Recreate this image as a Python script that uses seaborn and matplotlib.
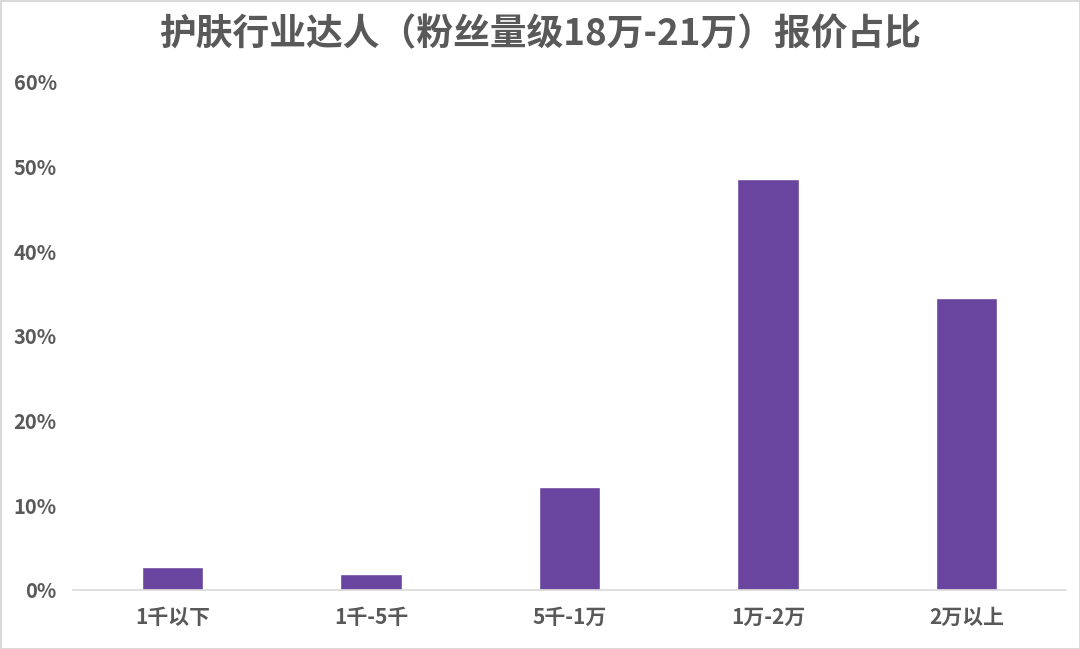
import matplotlib
matplotlib.use("Agg")
import pandas as pd
import seaborn as sns
import matplotlib.pyplot as plt
from matplotlib.ticker import PercentFormatter

# data
categories = ["1千以下", "1千-5千", "5千-1万", "1万-2万", "2万以上"]
shares = [2.75, 1.85, 12.2, 48.5, 34.5]

df = pd.DataFrame({"range": categories, "share": shares})

sns.set_theme(style="white")
plt.rcParams['font.family'] = ['Noto Sans CJK SC', 'DejaVu Sans']

text_color = "#595959"
bar_color = "#6a45a0"

fig = plt.figure(figsize=(10.8, 6.49), dpi=100, edgecolor="#d9d9d9", linewidth=2)
ax = fig.add_axes([0.068, 0.091, 0.919, 0.783])

sns.barplot(data=df, x="range", y="share", color=bar_color, width=0.31,
            saturation=1, ax=ax)

ax.set_ylim(0, 60)
ax.set_yticks(range(0, 61, 10))
ax.yaxis.set_major_formatter(PercentFormatter(decimals=0))
ax.set_xlim(-0.5, 4.5)
ax.set_xlabel("")
ax.set_ylabel("")

for side in ["top", "right", "left"]:
    ax.spines[side].set_visible(False)
ax.spines["bottom"].set_color("#d9d9d9")
ax.spines["bottom"].set_linewidth(1.2)

ax.tick_params(axis="both", length=0, colors=text_color)
ax.tick_params(axis="y", pad=12, labelsize=14.5)
ax.tick_params(axis="x", pad=12, labelsize=15)
for lab in ax.get_xticklabels() + ax.get_yticklabels():
    lab.set_fontweight("bold")

fig.suptitle("护肤行业达人（粉丝量级18万-21万）报价占比", x=0.5, y=0.975,
             fontsize=26.5, fontweight="bold", color=text_color)

fig.savefig("out.png", dpi=100, edgecolor=fig.get_edgecolor())
